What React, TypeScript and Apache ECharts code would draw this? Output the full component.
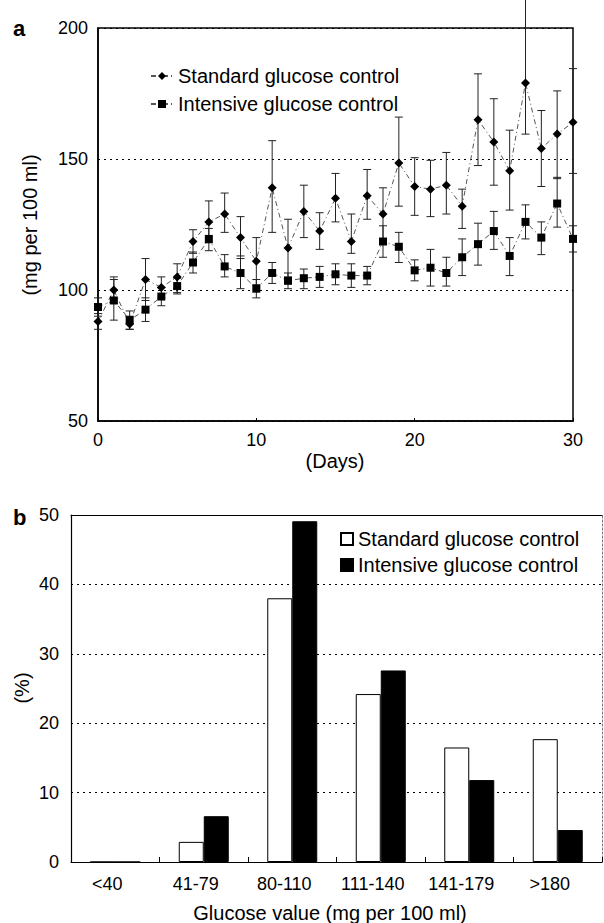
import React, { useEffect, useRef } from "react";
import * as echarts from "echarts";

const days = [0,1,2,3,4,5,6,7,8,9,10,11,12,13,14,15,16,17,18,19,20,21,22,23,24,25,26,27,28,29,30];
const standardMean = [88,100,87,104,101,105,118.5,126,129,120,111,139,116,130,122.5,135,118.5,136,129,148.5,139.5,138.5,140,132,165,156.5,145.5,179,154,159.5,164];
const standardLow = [85,95,85,96,97,99,114,118,122,112,102,122,105,120,115.5,126,114,127,119,132,128.5,128,129,123.5,147.5,140,130.5,159.5,139.5,142.5,144.5];
const standardHigh = [91,105,90,112,105,110,123,134,137,128,120,157,127,140,129.5,144.5,129,146,139,166,150.5,149.5,152.5,138.5,182.5,173,161,212,168.5,176,184.5];
const intensiveMean = [93.5,96,88.5,92.5,97.5,101.5,110.5,119.5,109,106.5,100.5,106.5,103.5,104.5,105,106,105.5,105.5,118.5,116.5,107.5,108.5,106.5,112.5,117.5,122.5,113,126,120,133,119.5];
const intensiveLow = [90,88.5,85,88,94,98.5,106.5,115,105,100.5,97,102.5,100.5,100.5,101,102,101,102,112.5,110.5,103.5,101.5,101.5,105.5,109.5,115.5,105.5,119.5,113.5,124,114.5];
const intensiveHigh = [97,104,92,97,101,104.5,114.5,123.5,113.5,113,104,110.5,106.5,108,109,110,110,109,124.5,122,111.5,115.5,112.5,119.5,125.5,130,120,132.5,126,143,124.5];

const glucoseBins = ["<40", "41-79", "80-110", "111-140", "141-179", ">180"];
const standardPct = [0, 2.9, 38, 24.2, 16.5, 17.7];
const intensivePct = [0, 6.6, 49.1, 27.6, 11.8, 4.6];

const labelNames: Record<string, string> = {
  stdLine: "Standard glucose control",
  intLine: "Intensive glucose control",
  stdBar: "Standard glucose control",
  intBar: "Intensive glucose control",
};

const FONT = "'Liberation Sans', Arial, Helvetica, sans-serif";

function errorBarItem(params: any, api: any) {
  const x = api.value(0);
  const lo = api.coord([x, api.value(1)]);
  const hi = api.coord([x, api.value(2)]);
  const cap = 4;
  const style = { stroke: "#222", lineWidth: 1 };
  return {
    type: "group",
    children: [
      { type: "line", shape: { x1: lo[0], y1: lo[1], x2: hi[0], y2: hi[1] }, style },
      { type: "line", shape: { x1: hi[0] - cap, y1: hi[1], x2: hi[0] + cap, y2: hi[1] }, style },
      { type: "line", shape: { x1: lo[0] - cap, y1: lo[1], x2: lo[0] + cap, y2: lo[1] }, style },
    ],
  };
}

export default function App() {
  const ref = useRef<HTMLDivElement>(null);
  useEffect(() => {
    if (!ref.current) return;
    const chart = echarts.init(ref.current, undefined, { renderer: "svg" });
    const dotted = { type: [2, 4] as any, color: "#000", width: 1 };
    const labelStyle = { color: "#000", fontSize: 18, fontFamily: FONT };
    const option: any = {
      animation: false,
      backgroundColor: "#fff",
      textStyle: { fontFamily: FONT, color: "#000" },
      grid: [
        { left: 98, right: 31, top: 28, height: 393, show: true, borderColor: "#000", borderWidth: 1.5, backgroundColor: "transparent" },
        { left: 71, right: 2, top: 515, height: 347, show: false },
      ],
      xAxis: [
        {
          type: "value", gridIndex: 0, min: 0, max: 30, interval: 10,
          axisLine: { show: true, lineStyle: { color: "#000", width: 1.5 } },
          axisTick: { show: true, inside: true, length: 3, lineStyle: { color: "#000" } },
          axisLabel: { ...labelStyle, margin: 10 },
          splitLine: { show: false },
        },
        {
          type: "category", gridIndex: 1, data: glucoseBins,
          axisLine: { show: true, lineStyle: { color: "#000", width: 1.2 } },
          axisTick: { show: true, inside: true, length: 5, alignWithLabel: false, lineStyle: { color: "#000" } },
          axisLabel: { ...labelStyle, margin: 13, padding: [0, 16, 0, 0] },
          splitLine: { show: false },
        },
        {
          type: "category", gridIndex: 1, data: glucoseBins, position: "top",
          axisLine: { show: true, onZero: false, lineStyle: { color: "#000", width: 1.2 } },
          axisTick: { show: false },
          axisLabel: { show: false },
          splitLine: { show: false },
        },
      ],
      yAxis: [
        {
          type: "value", gridIndex: 0, min: 50, max: 200, interval: 50,
          axisLine: { show: true, lineStyle: { color: "#000", width: 1.5 } },
          axisTick: { show: false },
          axisLabel: { ...labelStyle, margin: 10 },
          splitLine: { show: true, lineStyle: dotted },
        },
        {
          type: "value", gridIndex: 1, min: 0, max: 50, interval: 10,
          axisLine: { show: true, lineStyle: { color: "#000", width: 1.2 } },
          axisTick: { show: false },
          axisLabel: { ...labelStyle, margin: 12 },
          splitLine: { show: true, lineStyle: dotted },
        },
        {
          type: "value", gridIndex: 1, min: 0, max: 50, interval: 10, position: "right",
          axisLine: { show: true, onZero: false, lineStyle: { color: "#777", width: 1, type: [2, 2] } },
          axisTick: { show: false },
          axisLabel: { show: false },
          splitLine: { show: false },
        },
      ],
      legend: [
        {
          data: ["stdLine", "intLine"],
          formatter: (n: string) => labelNames[n],
          orient: "vertical", left: 145, top: 61, itemWidth: 22, itemHeight: 10, itemGap: 8,
          selectedMode: false,
          textStyle: { fontSize: 20, color: "#000", fontFamily: FONT },
        },
        {
          data: ["stdBar", "intBar"],
          formatter: (n: string) => labelNames[n],
          orient: "vertical", left: 335, top: 524, itemWidth: 12, itemHeight: 12, itemGap: 6,
          icon: "rect", selectedMode: false,
          textStyle: { fontSize: 20, color: "#000", fontFamily: FONT },
        },
      ],
      series: [
        {
          type: "custom", name: "stdErr", xAxisIndex: 0, yAxisIndex: 0, clip: false, z: 1,
          renderItem: errorBarItem,
          data: days.map((d, i) => [d, standardLow[i], standardHigh[i]]),
        },
        {
          type: "custom", name: "intErr", xAxisIndex: 0, yAxisIndex: 0, clip: false, z: 1,
          renderItem: errorBarItem,
          data: days.map((d, i) => [d, intensiveLow[i], intensiveHigh[i]]),
        },
        {
          type: "line", name: "stdLine", xAxisIndex: 0, yAxisIndex: 0, z: 3,
          data: days.map((d, i) => [d, standardMean[i]]),
          symbol: "diamond", symbolSize: 9,
          itemStyle: { color: "#000" },
          lineStyle: { color: "#555", width: 1, type: [5, 3, 1, 3] },
        },
        {
          type: "line", name: "intLine", xAxisIndex: 0, yAxisIndex: 0, z: 3,
          data: days.map((d, i) => [d, intensiveMean[i]]),
          symbol: "rect", symbolSize: 8,
          itemStyle: { color: "#000" },
          lineStyle: { color: "#555", width: 1, type: [5, 3, 1, 3] },
        },
        {
          type: "bar", name: "stdBar", xAxisIndex: 1, yAxisIndex: 1,
          data: standardPct, barWidth: 25, barGap: "0%",
          itemStyle: { color: "#fff", borderColor: "#000", borderWidth: 1 },
        },
        {
          type: "bar", name: "intBar", xAxisIndex: 1, yAxisIndex: 1,
          data: intensivePct, barWidth: 25, barGap: "0%",
          itemStyle: { color: "#000", borderColor: "#000", borderWidth: 1 },
        },
      ],
      graphic: [
        { type: "text", left: 13, top: 17, style: { text: "a", font: `bold 22px ${FONT}`, fill: "#000" } },
        { type: "text", left: 13, top: 506, style: { text: "b", font: `bold 22px ${FONT}`, fill: "#000" } },
        { type: "text", x: 335, y: 461, style: { text: "(Days)", font: `20px ${FONT}`, fill: "#000", align: "center", verticalAlign: "middle" } },
        { type: "text", x: 30, y: 225, rotation: Math.PI / 2, style: { text: "(mg per 100 ml)", font: `20px ${FONT}`, fill: "#000", align: "center", verticalAlign: "middle" } },
        { type: "text", x: 22, y: 688, rotation: Math.PI / 2, style: { text: "(%)", font: `20px ${FONT}`, fill: "#000", align: "center", verticalAlign: "middle" } },
        { type: "text", x: 330, y: 913, style: { text: "Glucose value (mg per 100 ml)", font: `20px ${FONT}`, fill: "#000", align: "center", verticalAlign: "middle" } },
      ],
    };
    chart.setOption(option);
    return () => chart.dispose();
  }, []);
  return <div ref={ref} style={{ position: "absolute", left: 0, top: 0, width: 604, height: 923 }} />;
}
